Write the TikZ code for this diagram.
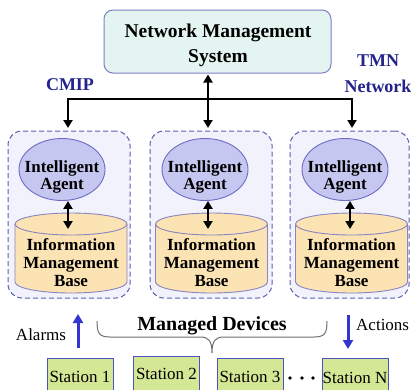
\documentclass[tikz,border=0pt]{standalone}
\usepackage{fontspec}
\setmainfont{Liberation Serif}
\usetikzlibrary{arrows.meta,shapes.geometric}
\definecolor{nmsfill}{HTML}{E4F4F1}
\definecolor{nmsdraw}{HTML}{7C80C4}
\definecolor{grpfill}{HTML}{F1F2FC}
\definecolor{grpdraw}{HTML}{5B5EAE}
\definecolor{agfill}{HTML}{C6C7F1}
\definecolor{agdraw}{HTML}{6C6CC4}
\definecolor{dbfill}{HTML}{FCE3B4}
\definecolor{dbdraw}{HTML}{8A84C0}
\definecolor{stfill}{HTML}{D4E795}
\definecolor{stdraw}{HTML}{4C52C0}
\definecolor{bluearr}{HTML}{3434D0}
\definecolor{labblue}{HTML}{23238C}
\definecolor{bracegray}{HTML}{707070}
\newcommand\mydb[1]{%
  \fill[dbfill] (#1-56,224) -- (#1-56,282) arc[start angle=180,end angle=0,x radius=56,y radius=11]
     -- (#1+56,224) arc[start angle=0,end angle=-180,x radius=56,y radius=11] -- cycle;
  \draw[dbdraw,line width=0.9pt] (#1-56,224) -- (#1-56,282) arc[start angle=180,end angle=0,x radius=56,y radius=11]
     -- (#1+56,224);
  \draw[dbdraw,line width=0.9pt] (#1,224) ellipse[x radius=56,y radius=11];
}
\tikzset{
  nmsbox/.style={draw=nmsdraw, fill=nmsfill, line width=1pt, rounded corners=9pt,
    minimum width=227pt, minimum height=63pt, inner sep=0pt},
  grpbox/.style={draw=grpdraw, fill=grpfill, line width=1pt, dash pattern=on 5pt off 3pt,
    rounded corners=14pt, minimum height=167pt, inner sep=0pt},
  agent/.style={ellipse, draw=agdraw, fill=agfill, line width=0.9pt,
    minimum width=86pt, minimum height=62pt, inner sep=0pt},
  agtext/.style={font=\fontsize{17}{17.5}\selectfont\bfseries, align=center, inner sep=0pt},
  dbtext/.style={font=\fontsize{17}{18}\selectfont\bfseries, align=center, inner sep=0pt},
  station/.style={draw=stdraw, fill=stfill, line width=1pt, minimum width=66pt,
    inner sep=0pt, font=\fontsize{17}{18}\selectfont},
  blk/.style={line width=2.3pt, black},
  bluearrow/.style={line width=3pt, bluearr, -{Triangle[width=10pt,length=9pt]}},
  sidelab/.style={font=\fontsize{18}{26}\selectfont\bfseries, text=labblue, align=center, inner sep=0pt},
  plainlab/.style={font=\fontsize{17}{20}\selectfont, inner sep=0pt},
}
\begin{document}
\begin{tikzpicture}[x=1pt,y=-1pt]
\clip (0,0) rectangle (411,389);
\fill[white] (0,0) rectangle (411,389);

% top system
\node[nmsbox] (nms) at (217.5,41.5) {};
\node[font=\fontsize{19.5}{25}\selectfont\bfseries, align=center, inner sep=0pt] (nmst) at (218,45) {Network Management\\System};
\node[sidelab] (cmip) at (70,85) {CMIP};
\node[sidelab] (tmn) at (378,74) {TMN\\Network};

% groups
\node[grpbox, minimum width=122pt] (g1) at (69,214.5) {};
\node[grpbox, minimum width=122pt] (g2) at (211,214.5) {};
\node[grpbox, minimum width=119pt] (g3) at (349.5,214.5) {};

% bus
\coordinate (bus) at (208,99);
\coordinate (busL) at (68,99);
\coordinate (busR) at (352,99);
\draw[blk, {Triangle[width=9pt,length=8pt]}-{Triangle[width=9pt,length=8pt]}, shorten <=1pt, shorten >=2.5pt]
  (bus |- nms.south) -- (bus |- g2.north);
\draw[blk, {Triangle[width=9pt,length=8pt]}-{Triangle[width=9pt,length=8pt]}, shorten <=2.5pt, shorten >=2.5pt]
  (busL |- g1.north) -- (busL) -- (busR) -- (busR |- g3.north);

% databases
\mydb{71}
\mydb{211.5}
\mydb{351.5}
\node[dbtext] (db1) at (71,262.5) {Information\\Management\\Base};
\node[dbtext] (db2) at (211.5,262.5) {Information\\Management\\Base};
\node[dbtext] (db3) at (351.5,262.5) {Information\\Management\\Base};

% agents
\node[agent] (ia1) at (62,169.5) {};
\node[agent] (ia2) at (205,169.5) {};
\node[agent] (ia3) at (345,169.5) {};
\node[agtext] (ia1t) at (62,177) {Intelligent\\Agent};
\node[agtext] (ia2t) at (205,177) {Intelligent\\Agent};
\node[agtext] (ia3t) at (345,177) {Intelligent\\Agent};

\coordinate (d1) at (68,229);
\coordinate (d2) at (208,229);
\coordinate (d3) at (350,229);
\foreach \i in {1,2,3}{
  \draw[blk, {Triangle[width=9pt,length=8pt]}-{Triangle[width=9pt,length=8pt]}]
    (ia\i.south -| d\i) -- (d\i);
}

% bottom
\node[plainlab] (alarms) at (41,335) {Alarms};
\coordinate (alT) at (78,314);
\coordinate (alB) at (78,348);
\draw[bluearrow] (alB) -- (alT);
\node[plainlab, anchor=west] (actions) at (356,325) {Actions};
\coordinate (acT) at (348,315);
\coordinate (acB) at (348,349);
\draw[bluearrow] (acT) -- (acB);

\node[font=\fontsize{20}{22}\selectfont\bfseries, inner sep=0pt] (md) at (212,326) {Managed Devices};
\draw[bracegray, line width=1pt]
  (97,321) .. controls (97,333) and (99,337) .. (110,337) -- (200,337)
  .. controls (208,337) and (212,340) .. (212,353)
  .. controls (212,340) and (216,337) .. (224,337) -- (314,337)
  .. controls (325,337) and (327,333) .. (327,321);

\node[station, minimum height=38pt] (s1) at (80,377) {Station 1};
\node[station, minimum height=35pt] (s2) at (166.5,373.5) {Station 2};
\node[station, minimum height=38pt] (s3) at (250,377) {Station 3};
\node[station, minimum height=40pt] (sN) at (355,378) {Station N};
\fill (290,378) circle[radius=1.8];
\fill (302,378) circle[radius=1.8];
\fill (313,378) circle[radius=1.8];
\end{tikzpicture}
\end{document}
